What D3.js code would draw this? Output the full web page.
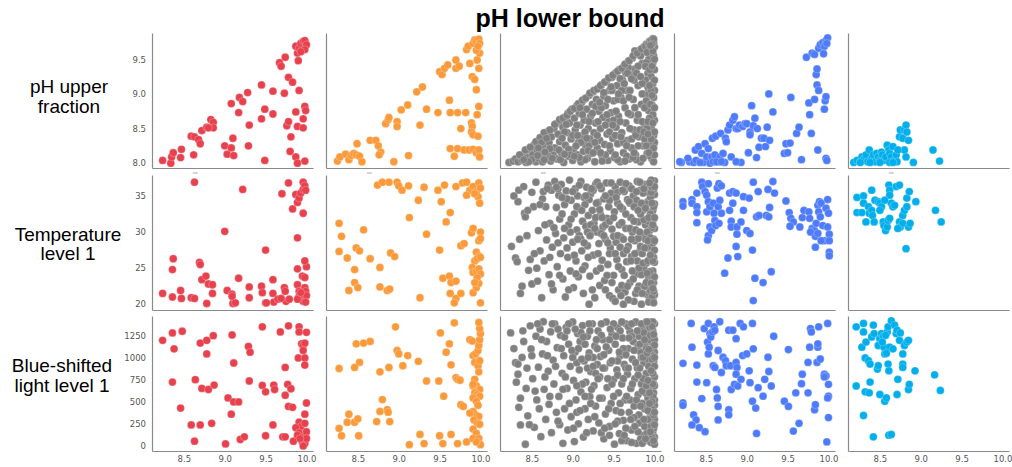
<!DOCTYPE html>
<html><head><meta charset="utf-8">
<script src="https://cdn.jsdelivr.net/npm/d3@7"></script>
<style>
html,body{margin:0;padding:0;background:#fff;}
svg{display:block;}
</style></head>
<body>
<svg id="chart" width="1012" height="467"></svg>
<script>
// ---------- DATA ----------
const title = "pH lower bound";
const rowLabels = [["pH upper","fraction"],["Temperature","level 1"],["Blue-shifted","light level 1"]];
const xTicks = [8.5, 9.0, 9.5, 10.0];
const yTicksUpper = [8.0, 8.5, 9.0, 9.5];
const yTicksTemp = [20, 25, 30, 35];
const yTicksLight = [0, 250, 500, 750, 1000, 1250];
const xDomain = [8.11, 10.08];
const yDomainUpper = [7.93, 9.88];
const yDomainTemp = [19.2, 37.9];
const yDomainLight = [-57, 1468];
const colors = ["#E8414E", "#FA9A3A", "#808080", "#4E7BFA", "#00AEEB"];

const redUpper = [[8.24,8.04],[8.34,8.00],[8.35,8.09],[8.37,8.15],[8.46,8.08],[8.47,8.20],[8.62,8.12],[8.59,8.39],[8.63,8.38],[8.68,8.34],[8.70,8.28],[8.72,8.47],[8.78,8.52],[8.83,8.63],[8.86,8.59],[8.86,8.51],[8.80,8.51],[9.00,8.25],[9.03,8.13],[9.08,8.22],[9.10,8.36],[9.11,8.11],[9.08,8.86],[9.17,8.73],[9.18,8.95],[9.22,8.89],[9.28,9.02],[9.30,8.55],[9.29,8.25],[9.45,9.13],[9.45,8.64],[9.49,8.78],[9.49,8.04],[9.59,8.71],[9.59,9.04],[9.67,9.45],[9.69,9.40],[9.74,9.53],[9.73,9.01],[9.78,9.24],[9.83,9.17],[9.91,9.05],[9.76,8.54],[9.78,8.60],[9.81,8.38],[9.80,8.17],[9.87,8.09],[9.89,8.00],[9.98,8.03],[9.87,8.74],[9.89,8.53],[9.96,8.64],[9.96,8.51],[9.98,8.82],[9.99,8.76],[9.90,9.48],[9.89,9.59],[9.87,9.69],[9.91,9.66],[9.93,9.73],[9.96,9.76],[9.98,9.77],[10.00,9.71],[9.98,9.64],[9.93,9.61]];
const redTemp = [[8.24,21.5],[8.36,21.0],[8.36,24.8],[8.37,26.3],[8.46,21.9],[8.47,20.8],[8.59,20.9],[8.63,20.8],[8.63,36.9],[8.69,25.8],[8.70,25.5],[8.72,23.4],[8.77,23.9],[8.80,22.8],[8.85,22.7],[8.85,21.5],[8.78,20.1],[9.00,30.1],[9.03,21.9],[9.09,21.4],[9.10,20.1],[9.13,20.2],[9.09,21.1],[9.17,23.6],[9.30,22.4],[9.30,20.9],[9.22,35.9],[9.45,22.5],[9.46,21.6],[9.50,27.5],[9.50,20.2],[9.59,23.4],[9.59,21.5],[9.60,20.3],[9.70,35.3],[9.73,22.3],[9.74,21.8],[9.75,20.4],[9.79,20.7],[9.78,36.8],[9.83,33.2],[9.87,35.2],[9.89,29.2],[9.89,24.9],[9.89,22.7],[9.91,21.8],[9.93,20.9],[9.96,20.4],[9.98,22.3],[9.99,21.8],[10.00,21.2],[9.99,20.3],[10.00,25.2],[9.95,23.9],[9.98,23.7],[9.96,32.6],[9.89,34.1],[9.91,34.7],[9.93,35.4],[9.96,35.9],[9.96,36.9],[9.98,36.4],[9.99,35.8],[9.91,21.1],[9.89,20.7],[9.93,21.6],[9.98,26.0],[9.51,20.2],[9.65,20.7],[9.69,20.8]];
const redLight = [[8.24,1193],[8.36,1277],[8.38,1097],[8.48,1296],[8.36,722],[8.46,428],[8.59,237],[8.63,54],[8.70,1162],[8.78,1193],[8.78,1040],[8.86,1246],[8.64,749],[8.72,650],[8.80,638],[8.87,688],[8.70,237],[8.84,256],[9.01,23],[9.09,1254],[9.11,937],[9.08,359],[9.04,543],[9.11,497],[9.17,497],[9.29,1124],[9.31,1059],[9.30,734],[9.19,73],[9.24,103],[9.46,1346],[9.46,684],[9.50,612],[9.60,688],[9.61,638],[9.59,237],[9.50,115],[9.68,1288],[9.74,887],[9.78,1357],[9.77,696],[9.81,646],[9.74,573],[9.78,447],[9.83,436],[9.71,103],[9.74,103],[9.84,54],[9.91,1346],[9.91,1288],[10.00,1284],[9.94,1154],[9.96,1135],[9.98,1162],[9.96,1078],[9.90,994],[9.98,994],[9.98,914],[10.00,485],[9.98,359],[9.91,268],[9.93,218],[9.98,256],[9.87,206],[9.91,149],[9.96,103],[10.00,161],[9.95,46],[9.98,27],[9.96,0],[9.89,122],[10.00,84],[9.92,84]];

const orangeUpper = [[8.25,8.03],[8.28,8.09],[8.35,8.13],[8.39,8.05],[8.42,8.11],[8.45,8.14],[8.48,8.12],[8.49,8.28],[8.52,8.10],[8.55,8.02],[8.65,8.33],[8.72,8.33],[8.75,8.25],[8.78,8.16],[8.76,8.12],[8.84,8.57],[8.87,8.63],[8.88,8.66],[8.98,8.60],[8.98,8.53],[8.94,8.02],[9.03,8.77],[9.11,8.84],[9.12,8.11],[9.22,9.03],[9.29,9.10],[9.26,8.55],[9.34,8.78],[9.48,8.73],[9.50,9.32],[9.53,9.28],[9.56,9.37],[9.60,9.42],[9.62,8.91],[9.63,8.73],[9.70,9.49],[9.70,9.37],[9.72,8.73],[9.74,9.40],[9.82,8.73],[9.76,8.50],[9.89,8.58],[9.90,8.53],[9.89,8.45],[9.91,8.41],[9.97,8.39],[9.87,9.44],[9.90,9.25],[9.93,9.21],[9.95,9.06],[9.96,9.49],[9.98,9.37],[9.99,9.59],[9.95,9.63],[9.83,9.64],[9.85,9.69],[9.91,9.73],[9.93,9.78],[9.95,9.76],[9.98,9.79],[9.99,9.73],[9.97,9.69],[9.63,8.21],[9.72,8.21],[9.68,8.10],[9.80,8.19],[9.86,8.19],[9.91,8.20],[9.95,8.15],[9.98,8.19],[9.99,8.09],[9.96,8.70],[9.98,8.82]];
const orangeTemp = [[8.74,36.5],[8.80,36.9],[8.88,36.9],[8.98,36.9],[9.00,36.4],[9.04,35.8],[9.12,36.4],[9.31,36.2],[9.48,35.8],[9.56,36.5],[9.70,36.3],[9.78,36.8],[9.83,36.9],[9.87,35.8],[9.83,35.1],[9.91,36.3],[9.95,35.6],[9.98,36.8],[10.00,36.1],[9.97,34.9],[9.99,34.0],[9.93,35.3],[9.24,34.4],[9.52,34.2],[9.63,32.7],[9.58,31.4],[9.13,32.0],[8.27,31.2],[8.30,29.4],[8.57,30.3],[8.27,27.3],[8.48,27.8],[8.52,27.4],[8.37,26.4],[8.65,26.3],[8.77,25.1],[8.46,24.8],[8.90,27.1],[8.95,26.6],[9.34,29.7],[9.50,27.5],[9.76,28.1],[9.80,28.4],[9.89,29.9],[9.91,30.5],[10.00,30.0],[9.98,28.8],[10.00,29.1],[9.95,27.2],[9.98,26.7],[9.93,26.0],[9.96,26.3],[10.00,26.5],[9.90,25.1],[9.91,24.4],[9.95,24.6],[9.98,24.9],[10.00,24.2],[8.46,23.0],[8.39,21.9],[8.50,22.3],[8.77,22.4],[8.86,21.9],[8.89,22.1],[9.26,20.9],[9.54,23.6],[9.62,23.9],[9.64,23.0],[9.70,23.2],[9.63,21.5],[9.70,20.8],[9.68,20.2],[9.76,21.5],[9.91,21.6],[9.95,22.3],[9.98,22.9],[10.00,20.2],[9.96,23.7],[9.93,23.0]];
const orangeLight = [[8.27,199],[8.30,115],[8.39,359],[8.37,268],[8.46,268],[8.50,306],[8.51,115],[8.48,1154],[8.57,1162],[8.65,1181],[8.52,944],[8.46,887],[8.27,875],[8.73,275],[8.77,390],[8.80,524],[8.86,409],[8.87,382],[8.89,275],[8.77,837],[8.88,887],[8.96,1346],[8.98,1078],[9.00,1040],[9.05,906],[9.11,1021],[9.24,956],[9.34,734],[9.13,15],[9.26,130],[9.31,27],[9.49,734],[9.50,115],[9.54,27],[9.51,1277],[9.55,562],[9.58,1059],[9.62,1154],[9.64,917],[9.64,130],[9.70,772],[9.72,753],[9.75,742],[9.68,1391],[9.72,27],[9.76,466],[9.79,447],[9.83,46],[9.87,1200],[9.90,1185],[9.91,1021],[9.94,1040],[9.97,1078],[9.98,1135],[9.99,1200],[10.00,1269],[9.99,1326],[9.98,1395],[9.93,944],[9.97,906],[9.99,963],[9.98,837],[9.93,753],[9.95,677],[9.99,638],[9.91,677],[9.93,600],[9.96,581],[9.99,562],[9.91,543],[9.95,505],[9.97,459],[9.91,390],[9.94,352],[9.98,333],[9.92,294],[9.96,256],[9.99,245],[9.91,191],[9.95,141],[9.91,84],[9.98,84],[10.00,15],[9.95,46],[9.87,371],[9.91,696]];

const grayUpper = [[8.22,8.01],[8.27,8.03],[8.30,8.06],[8.33,8.02],[8.36,8.10],[8.38,8.04],[8.41,8.14],[8.43,8.01],[8.45,8.08],[8.47,8.19],[8.49,8.04],[8.51,8.12],[8.53,8.27],[8.55,8.02],[8.56,8.20],[8.58,8.07],[8.60,8.33],[8.61,8.14],[8.63,8.02],[8.64,8.25],[8.66,8.40],[8.67,8.09],[8.69,8.18],[8.70,8.46],[8.71,8.30],[8.73,8.03],[8.74,8.38],[8.76,8.12],[8.77,8.50],[8.78,8.22],[8.80,8.57],[8.81,8.06],[8.82,8.42],[8.84,8.31],[8.85,8.60],[8.86,8.15],[8.88,8.52],[8.89,8.01],[8.90,8.66],[8.91,8.26],[8.93,8.44],[8.94,8.72],[8.95,8.10],[8.96,8.58],[8.98,8.35],[8.99,8.78],[9.00,8.04],[9.01,8.20],[9.02,8.65],[9.03,8.48],[9.05,8.83],[9.06,8.12],[9.07,8.30],[9.08,8.72],[9.09,8.55],[9.10,8.02],[9.11,8.88],[9.12,8.40],[9.13,8.17],[9.14,8.62],[9.15,8.93],[9.16,8.26],[9.17,8.78],[9.18,8.07],[9.19,8.50],[9.20,8.98],[9.21,8.35],[9.22,8.68],[9.23,8.14],[9.24,8.85],[9.25,9.03],[9.26,8.44],[9.27,8.02],[9.28,8.58],[9.29,8.92],[9.30,8.22],[9.31,9.08],[9.32,8.75],[9.33,8.33],[9.34,8.50],[9.35,9.13],[9.36,8.10],[9.37,8.66],[9.38,8.97],[9.39,8.27],[9.40,8.83],[9.41,9.18],[9.42,8.42],[9.43,8.04],[9.44,8.60],[9.45,9.05],[9.46,8.18],[9.47,8.73],[9.48,9.24],[9.49,8.36],[9.50,8.90],[9.51,8.08],[9.52,9.30],[9.53,8.52],[9.54,9.12],[9.55,8.28],[9.56,8.68],[9.57,9.35],[9.58,8.02],[9.59,8.95],[9.60,8.44],[9.61,9.20],[9.62,8.15],[9.63,9.41],[9.64,8.80],[9.65,8.58],[9.66,9.05],[9.67,8.33],[9.68,9.47],[9.69,8.06],[9.70,9.28],[9.71,8.70],[9.72,8.22],[9.73,9.52],[9.74,8.92],[9.75,8.48],[9.76,9.36],[9.77,8.12],[9.78,9.58],[9.79,8.62],[9.80,9.12],[9.81,8.38],[9.82,9.63],[9.83,8.02],[9.84,8.85],[9.85,9.44],[9.86,8.25],[9.87,9.68],[9.88,8.55],[9.89,9.00],[9.90,9.72],[9.91,8.14],[9.92,9.30],[9.93,8.76],[9.94,9.76],[9.95,8.42],[9.96,9.55],[9.97,8.06],[9.98,9.80],[9.99,8.95],[10.00,8.30],[9.97,8.20],[9.99,8.40],[9.96,8.52],[10.00,8.62],[9.98,8.70],[9.97,8.84],[10.00,9.05],[9.98,9.15],[9.96,9.25],[10.00,9.35],[9.98,9.45],[9.97,9.62],[10.00,9.68],[9.99,9.74],[9.95,9.66],[9.93,9.50],[9.92,9.10],[9.94,8.65],[9.93,8.30],[9.95,8.10],[9.99,8.02],[10.00,8.12],[9.91,8.50],[9.90,8.90],[9.89,9.20],[9.88,9.62],[9.05,8.55],[9.15,8.45],[9.20,8.60],[9.28,8.82],[9.35,8.80],[9.40,8.55],[9.45,8.45],[9.50,8.62],[9.55,8.92],[9.60,9.05],[9.65,9.30],[9.70,9.05],[9.75,9.20],[9.80,9.40],[9.85,9.15],[9.62,8.30],[9.72,8.35],[9.80,8.25],[9.85,8.60],[9.70,8.50],[9.55,8.05],[9.66,8.10],[9.78,8.05],[9.88,8.35],[9.40,8.12],[9.15,8.05],[8.95,8.20],[8.85,8.05],[8.70,8.10],[8.65,8.05],[8.50,8.05],[9.30,8.40],[9.20,8.25],[9.10,8.30],[9.00,8.40],[8.90,8.45],[9.48,9.05],[9.58,9.22],[9.68,9.38],[9.83,9.55],[9.76,9.62],[9.90,9.45],[9.45,8.25],[9.58,8.60],[9.68,8.72]];
const grayUpperMore = [[8.35,8.12],[8.42,8.19],[8.48,8.23],[8.55,8.31],[8.60,8.37],[8.65,8.44],[8.72,8.48],[8.78,8.56],[8.84,8.63],[8.88,8.65],[8.93,8.69],[8.97,8.75],[9.02,8.79],[9.07,8.86],[9.12,8.91],[9.16,8.94],[9.21,9.01],[9.26,9.05],[9.30,9.07],[9.34,9.12],[9.39,9.17],[9.44,9.23],[9.49,9.27],[9.55,9.33],[9.60,9.37],[9.64,9.43],[9.69,9.48],[9.74,9.55],[9.79,9.59],[9.84,9.65],[9.89,9.69],[9.93,9.72],[9.96,9.77],[9.99,9.79],[8.46,8.02],[8.57,8.11],[8.62,8.30],[8.68,8.36],[8.72,8.21],[8.75,8.07],[8.83,8.19],[8.87,8.36],[8.92,8.56],[8.97,8.12],[9.04,8.25],[9.06,8.40],[9.09,8.80],[9.12,8.70],[9.17,8.36],[9.19,8.18],[9.24,8.72],[9.27,8.30],[9.31,8.60],[9.33,8.88],[9.34,8.15],[9.38,9.02],[9.42,8.70],[9.43,8.92],[9.47,9.10],[9.49,8.55],[9.52,8.40],[9.53,8.75],[9.56,9.00],[9.59,8.38],[9.62,8.90],[9.63,9.15],[9.66,8.25],[9.67,9.30],[9.69,8.95],[9.72,9.22],[9.74,8.08],[9.76,8.80],[9.77,8.40],[9.78,9.30],[9.80,8.70],[9.82,8.48],[9.83,9.25],[9.85,9.00],[9.87,8.45],[9.88,8.80],[9.89,9.40],[9.90,8.25],[9.91,9.60],[9.92,8.60],[9.93,9.00],[9.94,9.35],[9.95,8.85],[9.96,9.05],[9.97,9.40],[9.98,8.58],[9.99,9.55],[10.00,8.80],[9.97,8.98],[9.96,8.35],[10.00,9.20],[9.98,9.62],[10.00,8.45],[9.99,8.22],[9.97,9.72],[10.00,9.50],[9.94,9.12],[9.92,8.42],[9.95,9.70],[9.93,8.15],[8.40,8.05],[8.58,8.22],[8.66,8.16],[8.90,8.13],[9.08,8.08],[9.25,8.15],[9.36,8.03],[9.52,8.12],[9.64,8.03],[9.75,8.15],[9.86,8.07],[9.02,8.10]];
const grayTemp = [[8.25,28.0],[8.30,26.4],[8.32,25.9],[8.34,35.8],[8.33,34.2],[8.36,21.5],[8.40,36.3],[8.41,32.6],[8.42,32.1],[8.44,29.5],[8.46,24.7],[8.48,26.2],[8.50,22.8],[8.52,33.5],[8.55,36.9],[8.57,23.2],[8.58,30.2],[8.60,27.4],[8.62,20.9],[8.63,34.6],[8.64,35.6],[8.65,26.0],[8.67,33.5],[8.68,28.9],[8.70,36.5],[8.71,24.1],[8.72,31.2],[8.74,35.8],[8.75,27.9],[8.76,22.0],[8.78,37.0],[8.79,29.8],[8.80,33.4],[8.81,25.2],[8.83,35.1],[8.84,31.8],[8.85,27.0],[8.86,36.6],[8.88,23.5],[8.89,29.2],[8.90,33.8],[8.91,21.0],[8.92,35.7],[8.94,26.5],[8.95,31.0],[8.96,37.2],[8.97,24.6],[8.98,34.4],[9.00,28.6],[9.01,22.3],[9.02,32.5],[9.03,36.0],[9.04,26.0],[9.05,30.3],[9.06,35.0],[9.07,23.8],[9.08,29.5],[9.09,33.2],[9.10,37.0],[9.11,27.4],[9.12,31.5],[9.13,21.5],[9.14,34.8],[9.15,25.3],[9.16,30.8],[9.17,36.2],[9.18,28.1],[9.19,32.3],[9.20,20.0],[9.21,23.9],[9.22,35.3],[9.23,29.9],[9.24,33.0],[9.25,26.8],[9.26,31.2],[9.27,20.9],[9.28,36.6],[9.29,24.6],[9.30,30.0],[9.31,34.1],[9.32,28.4],[9.33,22.6],[9.34,32.4],[9.35,36.0],[9.36,26.1],[9.37,30.7],[9.38,34.6],[9.39,23.3],[9.40,29.0],[9.41,36.8],[9.42,31.9],[9.43,25.5],[9.44,33.5],[9.45,21.2],[9.46,27.8],[9.47,35.4],[9.48,30.4],[9.49,20.8],[9.50,24.0],[9.51,32.8],[9.52,36.3],[9.53,28.6],[9.54,26.2],[9.55,34.0],[9.56,22.0],[9.57,31.0],[9.58,36.9],[9.59,29.3],[9.60,24.8],[9.61,33.2],[9.62,27.0],[9.63,35.6],[9.64,21.7],[9.65,30.5],[9.66,25.9],[9.67,34.5],[9.68,28.0],[9.69,36.4],[9.70,23.0],[9.71,32.0],[9.72,26.6],[9.73,30.0],[9.74,35.0],[9.75,20.4],[9.76,28.8],[9.77,33.6],[9.78,24.2],[9.79,37.0],[9.80,31.4],[9.81,22.5],[9.82,27.3],[9.83,35.8],[9.84,20.0],[9.85,29.6],[9.86,33.0],[9.87,25.0],[9.88,36.6],[9.89,31.0],[9.90,21.4],[9.91,27.8],[9.92,34.2],[9.93,23.6],[9.94,30.2],[9.95,36.0],[9.96,26.3],[9.97,32.7],[9.98,20.6],[9.99,29.0],[10.00,35.2],[9.97,22.0],[9.98,24.6],[10.00,25.8],[9.96,28.2],[9.99,31.8],[10.00,33.9],[9.95,34.8],[9.98,36.8],[10.00,37.1],[9.97,27.0],[9.99,23.0],[10.00,21.3],[9.94,20.7],[9.96,37.2],[9.93,35.5],[9.92,31.5],[9.94,28.0],[9.93,26.0],[9.92,22.8],[10.00,30.5],[9.99,26.5],[9.98,33.0],[9.96,24.0],[10.00,23.8],[9.97,30.6],[9.95,32.5],[9.99,35.9],[9.98,28.5],[9.95,21.9],[9.91,36.5],[9.90,33.9],[9.89,29.0],[9.90,25.7],[9.88,22.5],[9.87,31.7],[9.86,35.4],[9.85,27.0],[9.84,24.1],[9.83,32.5],[9.82,36.9],[9.80,29.1],[9.79,26.0],[9.78,34.4],[9.77,21.5],[9.20,34.5],[9.25,35.8],[9.30,36.9],[9.15,33.8],[9.28,32.0],[9.33,33.1],[9.22,31.0],[9.18,30.0],[9.35,29.8],[9.40,31.0],[9.10,29.0],[9.05,33.5],[9.45,34.4],[9.55,35.5],[9.65,36.7],[9.70,34.0],[9.72,29.0],[9.75,31.5],[9.60,31.3],[9.50,29.4],[9.45,27.0],[9.60,22.6],[9.68,20.6],[9.73,24.6],[9.58,27.9],[8.87,32.5],[8.97,30.0],[8.93,34.6],[8.82,36.0],[9.40,22.0],[9.52,20.4],[9.62,20.0]];
const grayTempMore = [[8.28,35.0],[8.35,29.0],[8.38,22.5],[8.45,33.0],[8.50,35.5],[8.53,27.0],[8.56,25.0],[8.60,33.8],[8.66,31.0],[8.69,36.0],[8.72,26.5],[8.74,22.8],[8.77,30.6],[8.80,36.2],[8.82,28.5],[8.84,24.0],[8.87,34.8],[8.90,30.5],[8.93,27.8],[8.95,22.0],[8.98,31.8],[9.00,35.6],[9.02,26.8],[9.04,24.2],[9.06,29.0],[9.08,36.5],[9.11,33.0],[9.12,24.8],[9.14,28.5],[9.16,35.0],[9.19,26.5],[9.21,29.5],[9.23,36.0],[9.24,22.0],[9.27,30.5],[9.29,34.0],[9.31,27.0],[9.33,36.4],[9.34,25.0],[9.36,32.0],[9.38,29.5],[9.40,35.0],[9.42,24.0],[9.43,28.5],[9.45,31.5],[9.47,36.8],[9.48,23.0],[9.50,32.0],[9.52,27.0],[9.53,34.8],[9.55,29.5],[9.56,25.2],[9.58,33.5],[9.59,21.2],[9.61,35.8],[9.62,29.0],[9.63,24.0],[9.65,32.5],[9.66,27.5],[9.67,22.5],[9.69,34.2],[9.70,30.5],[9.71,26.0],[9.72,36.0],[9.74,23.5],[9.75,33.5],[9.76,27.0],[9.77,30.3],[9.78,35.6],[9.79,22.0],[9.80,33.0],[9.81,25.0],[9.82,30.0],[9.83,28.0],[9.84,34.0],[9.85,21.5],[9.86,25.7],[9.87,36.0],[9.88,27.8],[9.89,33.3],[9.90,23.0],[9.91,30.0],[9.92,26.0],[9.93,32.0],[9.94,24.5],[9.95,29.2],[9.96,35.5],[9.97,21.0],[9.98,31.0],[9.99,33.5],[10.00,27.5],[9.99,21.8],[10.00,32.0],[9.98,26.0],[9.97,36.2],[9.96,22.9],[9.95,26.8],[10.00,36.3],[9.93,20.3],[9.91,24.3],[9.94,36.8],[9.92,28.8],[9.97,34.0],[10.00,28.8],[9.98,22.2],[9.99,20.2]];
const grayLight = [[8.24,1277],[8.30,940],[8.33,925],[8.33,810],[8.34,436],[8.36,237],[8.38,1000],[8.40,1180],[8.42,19],[8.43,650],[8.45,340],[8.48,1357],[8.49,1095],[8.51,760],[8.53,210],[8.55,1240],[8.56,520],[8.58,890],[8.60,1320],[8.61,105],[8.63,1040],[8.64,1403],[8.65,640],[8.67,300],[8.68,1180],[8.70,845],[8.71,470],[8.73,1290],[8.74,150],[8.76,970],[8.77,700],[8.78,1380],[8.80,380],[8.81,1110],[8.83,560],[8.84,240],[8.85,1250],[8.87,820],[8.88,30],[8.89,1020],[8.90,420],[8.92,1340],[8.93,650],[8.94,180],[8.95,1150],[8.97,900],[8.98,330],[9.00,1400],[9.01,740],[9.02,50],[9.03,1060],[9.04,520],[9.06,1270],[9.07,250],[9.08,860],[9.09,1180],[9.10,610],[9.12,1360],[9.13,100],[9.14,960],[9.15,420],[9.16,720],[9.18,1240],[9.19,300],[9.20,1050],[9.21,560],[9.22,840],[9.24,1380],[9.25,170],[9.26,680],[9.27,1130],[9.28,450],[9.30,920],[9.31,1300],[9.32,260],[9.33,780],[9.34,1010],[9.36,540],[9.37,1200],[9.38,80],[9.39,880],[9.40,360],[9.41,1400],[9.42,660],[9.44,1080],[9.45,220],[9.46,940],[9.47,480],[9.48,1260],[9.50,750],[9.51,20],[9.52,1150],[9.53,400],[9.54,860],[9.55,1340],[9.56,600],[9.57,140],[9.58,1020],[9.60,700],[9.61,1220],[9.62,290],[9.63,920],[9.64,520],[9.65,1380],[9.66,60],[9.67,810],[9.68,1100],[9.69,380],[9.70,1290],[9.71,650],[9.72,180],[9.73,980],[9.74,1180],[9.75,450],[9.76,760],[9.77,1400],[9.78,30],[9.79,880],[9.80,580],[9.81,1240],[9.82,260],[9.83,1060],[9.84,700],[9.85,1350],[9.86,120],[9.87,940],[9.88,420],[9.89,1150],[9.90,820],[9.91,1300],[9.92,540],[9.93,60],[9.94,1000],[9.95,330],[9.96,1400],[9.97,720],[9.98,160],[9.99,1120],[10.00,460],[9.97,1240],[10.00,1380],[9.98,1300],[9.96,1180],[10.00,1060],[9.99,950],[9.97,880],[10.00,780],[9.96,640],[9.99,600],[10.00,520],[9.98,410],[9.95,380],[10.00,300],[9.97,250],[9.99,200],[10.00,100],[9.96,40],[10.00,20],[9.94,1340],[9.93,1200],[9.95,1080],[9.94,880],[9.93,700],[9.92,300],[9.91,150],[9.92,980],[9.90,1400],[9.90,1100],[9.89,600],[9.88,220],[9.87,1280],[9.86,760],[9.85,480],[9.84,1000],[9.83,80],[9.82,880],[9.81,350],[9.80,1130],[10.00,1200],[9.98,1020],[9.99,700],[9.98,560],[10.00,680],[9.97,100],[9.10,1280],[9.20,1380],[9.30,1100],[9.15,1150],[9.25,1000],[9.35,1250],[9.05,940],[9.18,880],[9.28,820],[9.38,1030],[9.45,1200],[9.50,1380],[9.58,1300],[9.62,1100],[9.68,1350],[9.72,1240],[9.55,960],[9.65,880],[9.48,700],[9.58,480],[9.70,520],[9.75,320],[9.80,160],[9.65,200],[9.55,280],[9.45,120],[9.35,150],[9.60,60],[9.72,40],[9.85,30],[8.90,1230],[8.95,1380],[8.82,1320],[9.00,1000],[9.12,700],[9.22,480],[9.05,380]];
const grayLightMore = [[8.28,1100],[8.31,720],[8.36,540],[8.39,1300],[8.44,880],[8.47,240],[8.50,1020],[8.54,620],[8.57,1380],[8.59,420],[8.62,1200],[8.66,780],[8.69,1020],[8.72,560],[8.75,1380],[8.79,900],[8.82,280],[8.86,1100],[8.88,640],[8.91,780],[8.93,1300],[8.96,480],[8.99,1080],[9.01,200],[9.03,1320],[9.05,680],[9.07,1100],[9.09,400],[9.11,980],[9.13,1230],[9.15,560],[9.17,150],[9.19,1000],[9.21,1300],[9.23,640],[9.25,900],[9.27,330],[9.29,1200],[9.31,760],[9.33,540],[9.35,1380],[9.37,880],[9.39,200],[9.41,1120],[9.43,760],[9.44,420],[9.46,1320],[9.48,960],[9.50,560],[9.52,250],[9.53,1240],[9.55,800],[9.57,1060],[9.59,380],[9.60,1400],[9.62,760],[9.63,120],[9.65,1030],[9.66,560],[9.68,880],[9.69,1220],[9.71,300],[9.72,1380],[9.73,700],[9.75,1080],[9.76,220],[9.77,940],[9.78,520],[9.79,1300],[9.80,800],[9.82,1150],[9.83,450],[9.84,1380],[9.85,620],[9.86,1000],[9.87,300],[9.88,1200],[9.89,80],[9.90,680],[9.91,1050],[9.92,400],[9.93,900],[9.94,600],[9.95,1250],[9.96,220],[9.97,980],[9.98,820],[9.99,350],[10.00,900],[9.99,1260],[10.00,1000],[9.98,700],[9.97,500],[10.00,380],[9.99,60],[10.00,1140],[9.96,850],[9.95,160],[9.98,1400],[10.00,240],[9.97,1350],[9.94,480],[9.93,1090],[9.92,740],[9.91,1400]];

const blueUpper = [[8.20,8.01],[8.30,8.02],[8.35,8.01],[8.38,8.04],[8.37,8.19],[8.41,8.24],[8.45,8.14],[8.47,8.01],[8.49,8.28],[8.51,8.09],[8.53,8.21],[8.55,8.00],[8.57,8.09],[8.59,8.02],[8.58,8.36],[8.61,8.12],[8.62,8.39],[8.65,8.02],[8.67,8.09],[8.68,8.43],[8.71,8.14],[8.73,8.01],[8.74,8.36],[8.75,8.31],[8.77,8.48],[8.79,8.55],[8.81,8.09],[8.83,8.62],[8.85,8.67],[8.87,8.50],[8.89,8.50],[8.91,8.55],[8.93,8.01],[8.95,8.53],[8.98,8.57],[9.00,8.57],[9.02,8.15],[9.04,8.45],[9.04,8.41],[9.06,8.83],[9.08,8.54],[9.10,8.65],[9.12,8.08],[9.13,8.50],[9.15,8.23],[9.18,8.36],[9.21,8.36],[9.23,8.24],[9.25,8.52],[9.27,9.00],[9.28,8.33],[9.32,8.74],[9.46,8.14],[9.48,8.28],[9.50,8.15],[9.53,8.29],[9.54,8.95],[9.61,8.43],[9.64,8.52],[9.67,8.05],[9.76,8.87],[9.77,8.70],[9.79,8.43],[9.83,8.92],[9.85,9.28],[9.86,9.36],[9.86,9.13],[9.88,9.05],[9.87,8.19],[9.95,8.78],[9.96,8.90],[9.97,8.96],[9.97,8.07],[9.98,8.04],[9.73,9.53],[9.80,9.59],[9.83,9.57],[9.88,9.66],[9.90,9.71],[9.93,9.74],[9.95,9.69],[9.97,9.77],[9.99,9.81],[9.98,9.73],[9.94,9.58],[8.18,8.02],[8.43,8.01],[8.28,8.07],[8.63,8.02],[8.69,8.02],[8.87,8.02]];
const blueTemp = [[8.22,34.2],[8.22,33.6],[8.33,34.5],[8.33,34.0],[8.39,35.4],[8.39,33.5],[8.39,32.7],[8.39,31.3],[8.45,36.9],[8.46,36.3],[8.49,35.6],[8.51,35.1],[8.53,36.7],[8.53,34.2],[8.51,32.8],[8.55,33.5],[8.55,30.7],[8.53,29.5],[8.52,28.9],[8.57,30.2],[8.59,34.0],[8.60,32.6],[8.61,31.6],[8.62,30.9],[8.64,36.1],[8.65,33.5],[8.66,36.7],[8.67,34.4],[8.69,36.4],[8.69,32.6],[8.66,31.2],[8.73,24.3],[8.77,26.4],[8.79,35.4],[8.79,33.0],[8.81,31.5],[8.81,30.7],[8.83,35.6],[8.83,34.0],[8.87,35.4],[8.88,29.7],[8.88,30.7],[8.89,26.6],[8.87,28.0],[8.93,31.4],[8.96,34.9],[8.96,33.0],[9.00,30.2],[9.03,34.7],[9.04,29.8],[9.07,27.5],[9.08,36.9],[9.10,23.6],[9.12,32.1],[9.14,35.6],[9.15,32.3],[9.20,23.0],[9.24,32.3],[9.26,35.9],[9.28,33.4],[9.30,24.5],[9.32,37.0],[9.34,35.4],[9.27,32.1],[9.48,34.3],[9.52,32.7],[9.54,31.9],[9.57,31.4],[9.53,30.8],[9.65,30.7],[9.68,32.0],[9.70,33.0],[9.76,32.8],[9.77,31.9],[9.80,30.5],[9.83,30.2],[9.84,29.4],[9.84,27.9],[9.85,31.2],[9.87,33.7],[9.89,34.2],[9.91,34.0],[9.88,32.8],[9.90,32.1],[9.93,30.9],[9.95,28.8],[9.97,33.3],[9.99,34.5],[10.00,32.6],[9.99,30.7],[10.01,29.7],[10.01,28.8],[10.01,27.2],[10.01,26.7],[9.08,20.5],[9.78,30.0],[9.87,29.8],[9.91,28.8]];
const blueLight = [[8.22,933],[8.22,485],[8.22,459],[8.32,1384],[8.33,1116],[8.35,352],[8.38,294],[8.33,237],[8.39,722],[8.39,914],[8.42,206],[8.45,535],[8.49,161],[8.48,1326],[8.51,715],[8.53,1384],[8.52,1174],[8.53,1040],[8.54,1116],[8.55,1269],[8.56,1231],[8.58,1288],[8.60,1346],[8.61,1307],[8.59,906],[8.61,887],[8.63,638],[8.64,543],[8.65,447],[8.65,294],[8.65,1078],[8.67,1403],[8.69,830],[8.71,1002],[8.74,963],[8.75,906],[8.78,1307],[8.78,409],[8.78,352],[8.80,906],[8.81,638],[8.83,1307],[8.85,696],[8.87,1212],[8.87,944],[8.88,887],[8.87,810],[8.89,677],[8.92,1384],[8.93,753],[8.95,1021],[8.96,1346],[9.00,1040],[9.03,849],[9.04,715],[9.07,1384],[9.08,1097],[9.07,505],[9.11,428],[9.12,141],[9.14,658],[9.20,562],[9.22,753],[9.26,1002],[9.27,841],[9.30,677],[9.33,1239],[9.46,505],[9.51,1089],[9.51,447],[9.57,168],[9.60,600],[9.64,256],[9.68,810],[9.67,703],[9.75,944],[9.77,1116],[9.78,1326],[9.79,1288],[9.83,409],[9.84,466],[9.86,944],[9.87,1116],[9.88,1346],[9.90,982],[9.87,1154],[9.95,810],[9.97,791],[9.99,1384],[10.00,696],[10.00,562],[9.99,543],[10.00,321],[9.98,46],[9.95,780],[9.75,600]];

const cyanUpper = [[8.18,8.01],[8.22,8.04],[8.26,8.02],[8.28,8.09],[8.30,8.05],[8.33,8.12],[8.35,8.02],[8.37,8.19],[8.40,8.07],[8.42,8.12],[8.44,8.02],[8.46,8.14],[8.48,8.09],[8.50,8.04],[8.52,8.16],[8.53,8.12],[8.55,8.04],[8.57,8.09],[8.59,8.26],[8.61,8.19],[8.62,8.14],[8.64,8.09],[8.66,8.24],[8.68,8.04],[8.70,8.12],[8.71,8.02],[8.74,8.38],[8.75,8.48],[8.78,8.36],[8.80,8.48],[8.82,8.55],[8.83,8.45],[8.85,8.33],[8.80,8.19],[8.82,8.09],[8.91,8.01],[9.15,8.19],[9.23,8.03],[8.72,8.19],[8.26,8.01],[8.38,8.01],[8.50,8.01],[8.62,8.01],[8.66,8.01]];
const cyanTemp = [[8.22,34.8],[8.22,32.7],[8.28,32.7],[8.30,35.0],[8.30,34.0],[8.33,31.4],[8.36,33.5],[8.37,32.6],[8.40,33.0],[8.41,32.3],[8.43,31.4],[8.44,34.4],[8.48,34.2],[8.50,34.0],[8.52,33.5],[8.54,31.4],[8.55,30.9],[8.57,30.2],[8.59,30.7],[8.60,31.6],[8.61,36.5],[8.62,35.8],[8.62,35.1],[8.64,34.0],[8.66,33.5],[8.68,33.7],[8.70,36.3],[8.74,36.5],[8.74,31.4],[8.75,30.7],[8.78,31.2],[8.78,32.3],[8.80,33.0],[8.83,33.5],[8.83,34.7],[8.86,35.6],[8.85,30.7],[8.87,31.2],[8.82,27.7],[8.94,34.2],[9.18,33.0],[9.25,31.4],[8.40,35.8],[8.50,33.0],[8.56,34.4],[8.62,31.9],[8.72,30.5]];
const cyanLight = [[8.21,1346],[8.21,677],[8.28,1116],[8.30,1288],[8.30,1384],[8.32,994],[8.33,1174],[8.32,612],[8.30,344],[8.36,963],[8.37,600],[8.38,925],[8.38,722],[8.40,1231],[8.42,103],[8.42,1365],[8.43,1269],[8.47,868],[8.48,1135],[8.50,581],[8.50,1212],[8.52,1269],[8.54,1239],[8.55,1116],[8.56,1040],[8.56,505],[8.58,543],[8.59,1288],[8.60,925],[8.60,1346],[8.61,849],[8.61,122],[8.62,1116],[8.64,1414],[8.66,1097],[8.68,1365],[8.70,1269],[8.71,1307],[8.71,581],[8.72,753],[8.74,1193],[8.75,1277],[8.78,1040],[8.78,925],[8.78,887],[8.80,1135],[8.83,1174],[8.85,1193],[8.85,638],[8.86,696],[8.93,849],[9.17,803],[9.24,627],[8.64,130],[8.57,1250],[8.53,1174],[8.48,906],[8.58,1047]];

// ---------- LAYOUT ----------
const colLeft0 = 152, colStep = 174, panelW = 161;
const rowTops = [33, 175, 316], panelH = 135;
const rowLabelX = [69, 68, 62];
const rowLabelBase = [[93, 113], [241, 260], [372, 392]];

const svg = d3.select("#chart");

const panels = [
  [redUpper, orangeUpper, grayUpper.concat(grayUpperMore), blueUpper, cyanUpper],
  [redTemp, orangeTemp, grayTemp.concat(grayTempMore), blueTemp, cyanTemp],
  [redLight, orangeLight, grayLight.concat(grayLightMore), blueLight, cyanLight]
];
const yDomains = [yDomainUpper, yDomainTemp, yDomainLight];
const yTickSets = [yTicksUpper, yTicksTemp, yTicksLight];
const yFormats = [d3.format(".1f"), d3.format("d"), d3.format("d")];

const axisColor = "#8a8a8a";
const tickColor = "#555";
const tickFont = "'DejaVu Sans', sans-serif";

panels.forEach((row, ri) => {
  const top = rowTops[ri];
  const y = d3.scaleLinear().domain(yDomains[ri]).range([top + panelH, top]);
  row.forEach((pts, ci) => {
    const left = colLeft0 + ci * colStep;
    const x = d3.scaleLinear().domain(xDomain).range([left, left + panelW]);
    const g = svg.append("g");
    g.append("g").selectAll("circle").data(pts).join("circle")
      .attr("cx", d => x(d[0])).attr("cy", d => y(d[1])).attr("r", 3.9)
      .attr("fill", colors[ci]).attr("stroke", "#fff").attr("stroke-width", 0.4).attr("stroke-opacity", 0.6);
    const ya = d3.axisLeft(y).tickSize(0).tickPadding(6).tickSizeOuter(0);
    if (ci === 0) ya.tickValues(yTickSets[ri]).tickFormat(yFormats[ri]); else ya.tickValues([]);
    const gy = g.append("g").attr("transform", `translate(${left},0)`).call(ya);
    const xa = d3.axisBottom(x).tickSize(0).tickPadding(5).tickSizeOuter(0);
    if (ri === 2) xa.tickValues(xTicks).tickFormat(d3.format(".1f")); else xa.tickValues([]);
    const gx = g.append("g").attr("transform", `translate(0,${top + panelH})`).call(xa);
    [gy, gx].forEach(a => {
      a.select(".domain").attr("stroke", axisColor).attr("stroke-width", 1.2);
      a.selectAll("text").attr("fill", tickColor).style("font-family", tickFont).style("font-size", "8.5px");
    });
    if (ri === 0) {
      g.append("line").attr("x1", x(8.64) - 2.5).attr("x2", x(8.64) + 2.5)
        .attr("y1", top + panelH + 5).attr("y2", top + panelH + 5)
        .attr("stroke", "#aaa").attr("stroke-width", 1);
    }
  });
  const t = svg.append("text").attr("text-anchor", "middle")
    .style("font-family", "'Liberation Sans', Arial, sans-serif").style("font-size", "19px").attr("fill", "#000");
  rowLabels[ri].forEach((line, li) => {
    t.append("tspan").attr("x", rowLabelX[ri]).attr("y", rowLabelBase[ri][li]).text(line);
  });
});

svg.append("text").attr("x", 570).attr("y", 27).attr("text-anchor", "middle")
  .style("font-family", "'Liberation Sans', Arial, sans-serif").style("font-size", "25px").style("font-weight", "bold")
  .attr("fill", "#000").text(title);
</script>
</body></html>
